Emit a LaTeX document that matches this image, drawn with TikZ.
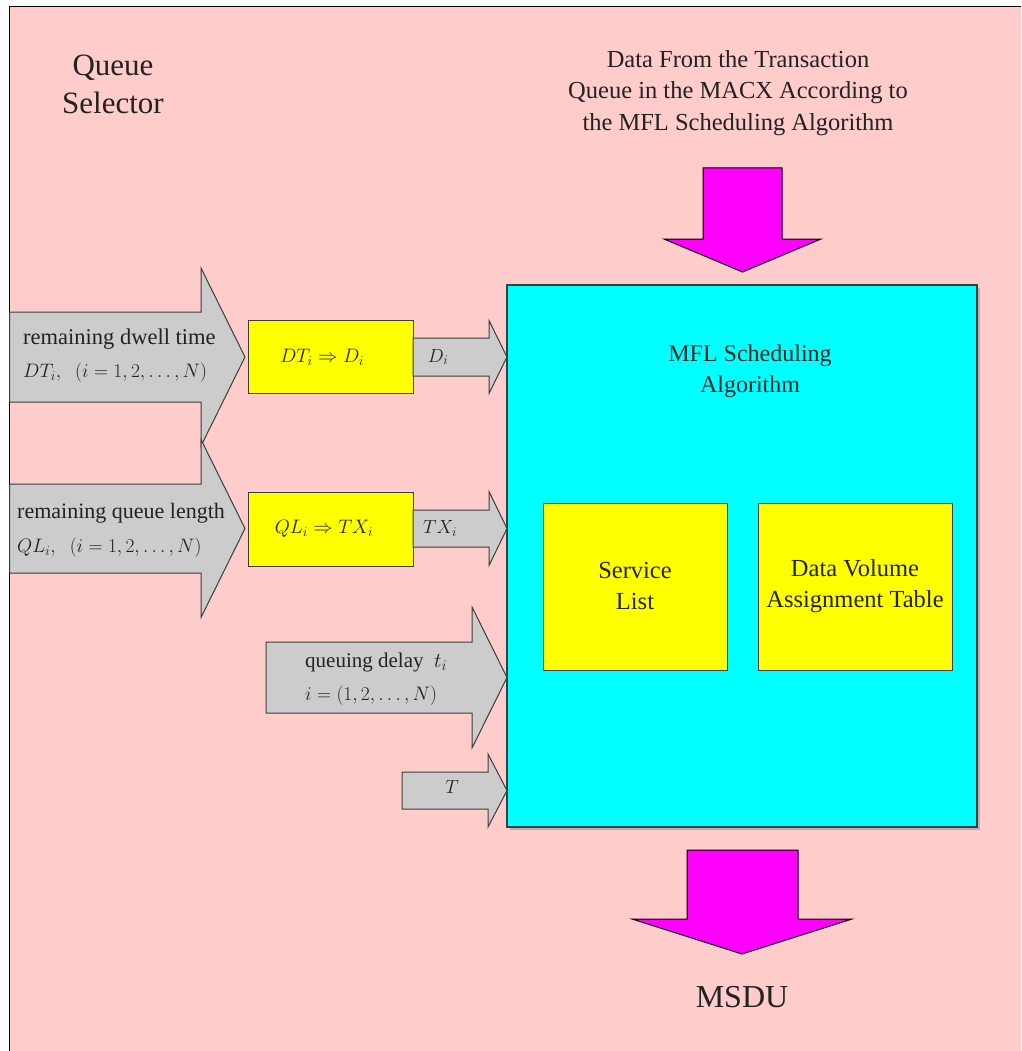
\RequirePackage{fix-cm}
\documentclass[tikz,border=0pt]{standalone}
\usepackage{fontspec}
\setmainfont{Liberation Serif}
\definecolor{pinkbg}{RGB}{255,204,204}
\definecolor{greyfill}{RGB}{204,204,204}
\definecolor{lineg}{RGB}{60,60,60}
\definecolor{txt}{RGB}{34,34,34}
\definecolor{cyanf}{RGB}{0,255,255}
\definecolor{magf}{RGB}{255,0,255}
\definecolor{yelf}{RGB}{255,255,0}
\newcommand\rarrowshape[7][]{% style, x0, x1, x2, yc, half shaft, half head
  \draw[#1] (#2,#5-#6) -- (#3,#5-#6) -- (#3,#5-#7) -- (#4,#5) -- (#3,#5+#7) -- (#3,#5+#6) -- (#2,#5+#6) -- cycle;}
\newcommand\darrowshape[8][]{% style, xl, xr, ytop, yhead, hxl, hxr, ytip
  \draw[#1] (#2,#4) -- (#3,#4) -- (#3,#5) -- (#7,#5) -- ({(#6+#7)/2},#8) -- (#6,#5) -- (#2,#5) -- cycle;}
\newcommand\iseq{1,2,\ldots,N}
\newcommand\msz{\fontsize{19.5}{23}\selectfont}
\begin{document}
\begin{tikzpicture}[x=1pt,y=-1pt,
  garrow/.style={fill=greyfill, draw=lineg, line width=1pt, line join=miter},
  marrow/.style={fill=magf, draw=black, line width=1pt, line join=miter},
  ybox/.style={draw=lineg, fill=yelf, line width=1pt, inner sep=0pt},
  cbox/.style={draw=lineg, fill=cyanf, line width=1.2pt, inner sep=0pt},
  lbl/.style={inner sep=0pt, text=txt, align=center},
  lft/.style={inner sep=0pt, text=txt, align=left, anchor=west}
]
\useasboundingbox (0,0) rectangle (1021,1051);
\fill[white] (0,0) rectangle (1021,1051);
\fill[pinkbg] (9.5,6.5) rectangle (1021,1051);
\draw[black, line width=1.2pt] (9.5,1051) -- (9.5,6.5) -- (1021,6.5);

% titles
\node[lbl, font=\fontsize{31}{38}\selectfont] (qs) at (113,84) {Queue\\Selector};
\node[lbl, font=\fontsize{24.5}{31.5}\selectfont] (src) at (738,93) {Data From the Transaction\\Queue in the MACX According to\\the MFL Scheduling Algorithm};

% main box
\fill[black!30] (509.5,287.5) rectangle (979.5,829.5);
\node[cbox, minimum width=470, minimum height=542] (mfl) at (742,556) {};
\node[lbl, font=\fontsize{24}{31}\selectfont] (mfltxt) at (750,371) {MFL Scheduling\\Algorithm};
\node[ybox, minimum width=184, minimum height=167] (sl) at (635,586.5) {};
\node[lbl, font=\fontsize{24.5}{31}\selectfont] at (sl) {Service\\List};
\node[ybox, minimum width=194, minimum height=167] (dv) at (855,586.5) {};
\node[lbl, font=\fontsize{24.5}{31}\selectfont] at (dv) {Data Volume\\Assignment Table};

% magenta arrows
\darrowshape[marrow]{703}{782}{168}{239}{664}{821}{272}
\darrowshape[marrow]{687}{798}{850}{919}{632}{852}{954}
\node[lbl, font=\fontsize{32}{38}\selectfont] (msdu) at (742,997) {MSDU};

% big grey arrows
\rarrowshape[garrow]{9.5}{201}{245}{357}{45}{89}
\rarrowshape[garrow]{9.5}{201}{245}{528.5}{44.5}{89}
\node[lft, font=\fontsize{22.5}{35}\selectfont] (dwell) at (23,355.5) {remaining dwell time\\[-2pt] {\msz$DT_i,\;\;(i=\iseq)$}};
\node[lft, font=\fontsize{22}{36}\selectfont] (qlen) at (17,530) {remaining queue length\\[-2pt] {\msz$QL_i,\;\;(i=\iseq)$}};

% yellow conversion boxes
\node[ybox, minimum width=165, minimum height=73] (dt) at (330.5,356.5) {};
\node[lbl, font=\msz] at (322,357) {$DT_i \Rightarrow D_i$};
\node[ybox, minimum width=165, minimum height=74] (ql) at (330.5,529) {};
\node[lbl, font=\msz] at (324,528.5) {$QL_i \Rightarrow TX_i$};

% small grey arrows
\rarrowshape[garrow]{413}{489}{507}{357}{19}{36.5}
\node[lbl, font=\fontsize{19}{23}\selectfont] (dlab) at (438,357) {$D_i$};
\rarrowshape[garrow]{413}{489}{507}{528.5}{18.5}{37}
\node[lbl, font=\fontsize{19}{23}\selectfont] (txlab) at (440,528.5) {$TX_i$};

\rarrowshape[garrow]{266}{472}{507}{677.5}{35.5}{70.5}
\node[lft, font=\fontsize{21}{35}\selectfont] (qd) at (305,679) {queuing delay\ \ $t_i$\\[-2pt] {\msz$i=(\iseq)$}};

\rarrowshape[garrow]{402}{488}{507}{790.5}{18.5}{36.5}
\node[lbl, font=\fontsize{19}{23}\selectfont] (tlab) at (452,787) {$T$};
\end{tikzpicture}
\end{document}
